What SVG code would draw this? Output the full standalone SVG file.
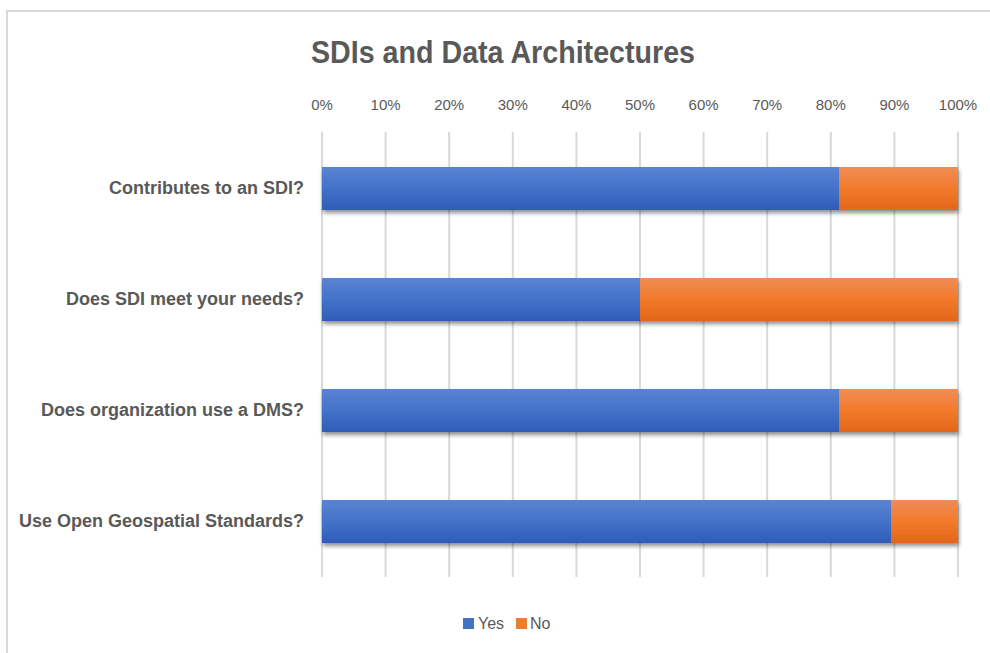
<svg xmlns="http://www.w3.org/2000/svg" width="990" height="653" viewBox="0 0 990 653">
  <defs>
    <linearGradient id="gYes" x1="0" y1="0" x2="0" y2="1">
      <stop offset="0" stop-color="#5a84d2"/>
      <stop offset="0.5" stop-color="#4472c9"/>
      <stop offset="1" stop-color="#2e5db6"/>
    </linearGradient>
    <linearGradient id="gNo" x1="0" y1="0" x2="0" y2="1">
      <stop offset="0" stop-color="#f08d55"/>
      <stop offset="0.5" stop-color="#f27a2b"/>
      <stop offset="1" stop-color="#e3661a"/>
    </linearGradient>
    <filter id="shadow" x="-5%" y="-20%" width="110%" height="150%">
      <feGaussianBlur in="SourceAlpha" stdDeviation="2"/>
      <feOffset dx="1" dy="3" result="b"/>
      <feComponentTransfer><feFuncA type="linear" slope="0.45"/></feComponentTransfer>
      <feMerge><feMergeNode/><feMergeNode in="SourceGraphic"/></feMerge>
    </filter>
  </defs>
  <style>
    .grid { stroke: #d9d9d9; stroke-width: 2; }
    .tick { font-family: "Liberation Sans", Arial, sans-serif; font-size: 15px; fill: #595959; text-anchor: middle; }
    .cat { font-family: "Liberation Sans", Arial, sans-serif; font-size: 18px; font-weight: bold; fill: #595959; text-anchor: end; }
    .title { font-family: "Liberation Sans", Arial, sans-serif; font-size: 31px; font-weight: bold; fill: #595959; text-anchor: middle; }
    .leg { font-family: "Liberation Sans", Arial, sans-serif; font-size: 16px; fill: #595959; }
    .yes { fill: url(#gYes); }
    .no { fill: url(#gNo); }
  </style>

  <rect x="0" y="0" width="990" height="653" fill="#ffffff"/>
  <!-- chart frame (top and left edges visible) -->
  <path d="M7 653 V11 H990" fill="none" stroke="#d9d9d9" stroke-width="2"/>

  <text class="title" x="503" y="63" textLength="384" lengthAdjust="spacingAndGlyphs">SDIs and Data Architectures</text>

  <!-- vertical gridlines -->
  <g id="gridlines">
    <line class="grid" x1="322" y1="132" x2="322" y2="577"/>
    <line class="grid" x1="385.6" y1="132" x2="385.6" y2="577"/>
    <line class="grid" x1="449.2" y1="132" x2="449.2" y2="577"/>
    <line class="grid" x1="512.8" y1="132" x2="512.8" y2="577"/>
    <line class="grid" x1="576.4" y1="132" x2="576.4" y2="577"/>
    <line class="grid" x1="640" y1="132" x2="640" y2="577"/>
    <line class="grid" x1="703.6" y1="132" x2="703.6" y2="577"/>
    <line class="grid" x1="767.2" y1="132" x2="767.2" y2="577"/>
    <line class="grid" x1="830.8" y1="132" x2="830.8" y2="577"/>
    <line class="grid" x1="894.4" y1="132" x2="894.4" y2="577"/>
    <line class="grid" x1="958" y1="132" x2="958" y2="577"/>
  </g>

  <!-- percentage axis -->
  <g id="axis">
    <text class="tick" x="322" y="110">0%</text>
    <text class="tick" x="385.6" y="110">10%</text>
    <text class="tick" x="449.2" y="110">20%</text>
    <text class="tick" x="512.8" y="110">30%</text>
    <text class="tick" x="576.4" y="110">40%</text>
    <text class="tick" x="640" y="110">50%</text>
    <text class="tick" x="703.6" y="110">60%</text>
    <text class="tick" x="767.2" y="110">70%</text>
    <text class="tick" x="830.8" y="110">80%</text>
    <text class="tick" x="894.4" y="110">90%</text>
    <text class="tick" x="958" y="110">100%</text>
  </g>

  <g id="row1">
    <text class="cat" x="304" y="194">Contributes to an SDI?</text>
    <g filter="url(#shadow)">
      <rect class="yes" x="322" y="167" width="517" height="43"/>
      <rect class="no" x="839" y="167" width="119" height="43"/>
    </g>
  </g>
  <g id="row2">
    <text class="cat" x="304" y="305">Does SDI meet your needs?</text>
    <g filter="url(#shadow)">
      <rect class="yes" x="322" y="278" width="318" height="43"/>
      <rect class="no" x="640" y="278" width="318" height="43"/>
    </g>
  </g>
  <g id="row3">
    <text class="cat" x="304" y="416">Does organization use a DMS?</text>
    <g filter="url(#shadow)">
      <rect class="yes" x="322" y="389" width="517" height="43"/>
      <rect class="no" x="839" y="389" width="119" height="43"/>
    </g>
  </g>
  <g id="row4">
    <text class="cat" x="304" y="527">Use Open Geospatial Standards?</text>
    <g filter="url(#shadow)">
      <rect class="yes" x="322" y="500" width="569" height="43"/>
      <rect class="no" x="891" y="500" width="67" height="43"/>
    </g>
  </g>

  <!-- legend -->
  <g id="legend">
    <rect x="463" y="618" width="11" height="11" fill="#4472c4"/>
    <text class="leg" x="478" y="629">Yes</text>
    <rect x="516" y="618" width="11" height="11" fill="#ed7d31"/>
    <text class="leg" x="530" y="629">No</text>
  </g>
</svg>
